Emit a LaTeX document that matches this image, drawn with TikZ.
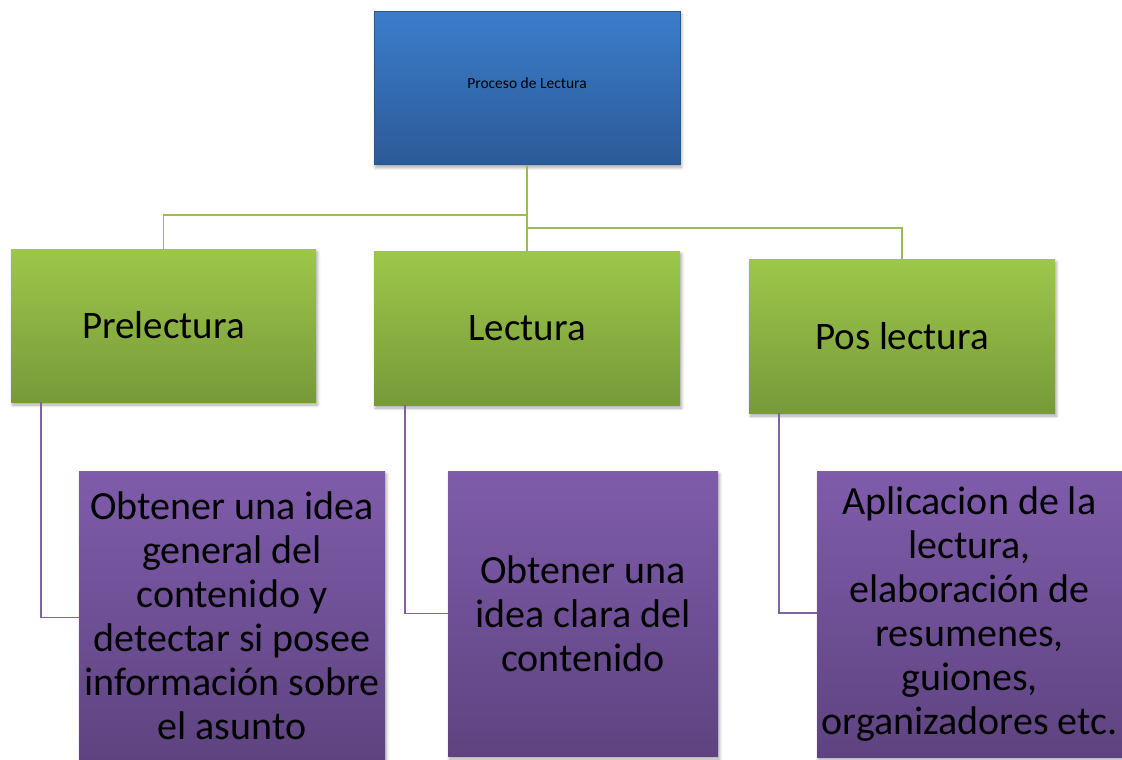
\documentclass[tikz,border=0pt]{standalone}
\usepackage{fontspec}
\setmainfont{Carlito}
\usetikzlibrary{shadows.blur,calc}
\definecolor{bluetop}{HTML}{3B7DCB}
\definecolor{bluebot}{HTML}{2C5A98}
\definecolor{greentop}{HTML}{9DC74A}
\definecolor{greenbot}{HTML}{779A3A}
\definecolor{purptop}{HTML}{7F5CAB}
\definecolor{purpbot}{HTML}{5E4380}
\definecolor{gline}{HTML}{9BBB59}
\definecolor{pline}{HTML}{8064A2}
\tikzset{
  shad/.style={blur shadow={shadow xshift=1.5pt, shadow yshift=-3pt, shadow blur radius=3pt, shadow blur steps=6, shadow opacity=35}},
  topbox/.style={shad, rectangle, inner sep=0pt, top color=bluetop, bottom color=bluebot, draw=bluetop!70!black, line width=0.3pt, minimum width=306pt, minimum height=153pt, font=\fontsize{15.5}{18}\selectfont},
  midbox/.style={shad, rectangle, inner sep=0pt, top color=greentop, bottom color=greenbot, minimum width=306pt, minimum height=154pt, font=\fontsize{39}{44}\selectfont},
  lowbox/.style={shad, rectangle, inner sep=0pt, top color=purptop, bottom color=purpbot, align=center, font=\fontsize{40}{44}\selectfont},
  gconn/.style={draw=gline, line width=1.6pt},
  pconn/.style={draw=pline, line width=1.6pt}
}
\begin{document}
\begin{tikzpicture}[x=1pt,y=-1pt]
\useasboundingbox (0,0) rectangle (1122,760);
\node[topbox] (top) at (527,88) {\raisebox{9pt}{Proceso de Lectura}};
\node[midbox, minimum width=305pt, minimum height=153pt] (pre) at (163.5,325.5) {Prelectura};
\node[midbox] (lec) at (527,328) {Lectura};
\node[midbox] (pos) at (902,336) {Pos lectura};
\node[lowbox, minimum width=306pt, minimum height=289pt] (p1) at (232,615.5) {Obtener una idea\\general del\\contenido y\\detectar si posee\\información sobre\\el asunto};
\node[lowbox, minimum width=270pt, minimum height=285pt] (p2) at (583,613.5) {Obtener una\\idea clara del\\contenido};
\node[lowbox, minimum width=305pt, minimum height=286pt] (p3) at (969.5,614) {Aplicacion de la\\lectura,\\elaboración de\\resumenes,\\guiones,\\organizadores etc.};
\coordinate (j1) at (527,215);
\coordinate (j2) at (527,228);
\draw[gconn] (top.south) -- (lec.north);
\draw[gconn] (pre.north) |- (j1);
\draw[gconn] (pos.north) |- (j2);
\draw[pconn] ($(pre.south west)+(30,0)$) |- ($(p1.west)+(0,2)$);
\draw[pconn] ($(lec.south west)+(31,0)$) |- (p2.west);
\draw[pconn] ($(pos.south west)+(30,0)$) |- ($(p3.west)+(0,-1)$);
\end{tikzpicture}
\end{document}
